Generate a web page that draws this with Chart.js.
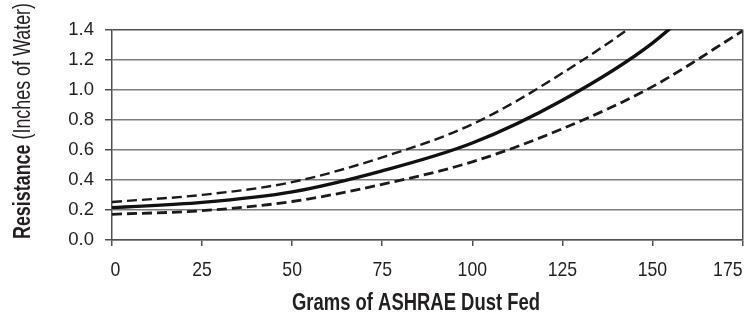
<!DOCTYPE html>
<html>
<head>
<meta charset="utf-8">
<script src="https://cdn.jsdelivr.net/npm/chart.js@4.4.1/dist/chart.umd.min.js"></script>
<style>
  html, body { margin: 0; padding: 0; background: #fff; }
  #wrap { width: 752px; height: 318px; position: relative; }
</style>
</head>
<body>
<div id="wrap"><canvas id="chart"></canvas></div>
<script>
// values
const grams = [0, 25, 50, 75, 100, 125, 150, 175];
const typical = [0.215, 0.25, 0.32, 0.46, 0.645, 0.93, 1.31, 1.85];
const upperBand = [0.253, 0.3, 0.385, 0.55, 0.77, 1.11, 1.53, 2.1];
const lowerBand = [0.171, 0.195, 0.256, 0.37, 0.52, 0.74, 1.02, 1.39];
const yTicks = [0, 0.2, 0.4, 0.6, 0.8, 1.0, 1.2, 1.4];

const xTitle = 'Grams of ASHRAE Dust Fed';
const yTitleBold = 'Resistance';
const yTitleRest = ' (Inches of Water)';

const SANS = '"Liberation Sans", Arial, sans-serif';
const SQUEEZE = 0.84; // no condensed face installed, so squeeze Liberation Sans
const INK = '#231f20';
const GRID = '#7d7d7d';
const AXIS = '#505050';

const pts = (ys) => grams.map((g, i) => ({ x: g, y: ys[i] }));

// draw horizontally squeezed text, fitted to a width if given
function narrowText(ctx, text, x, y, font, align, fitWidth) {
  ctx.font = font;
  const w = ctx.measureText(text).width;
  const k = fitWidth ? fitWidth / w : SQUEEZE;
  const ww = w * k;
  let left = x;
  if (align === 'center') left = x - ww / 2;
  else if (align === 'right') left = x - ww;
  ctx.save();
  ctx.translate(left, y);
  ctx.scale(k, 1);
  ctx.textAlign = 'left';
  ctx.fillText(text, 0, 0);
  ctx.restore();
}

const texts = {
  id: 'texts',
  afterDraw(chart) {
    const ctx = chart.ctx;
    const xs = chart.scales.x;
    ctx.save();
    ctx.fillStyle = INK;
    ctx.textBaseline = 'alphabetic';

    // x tick labels (first start-aligned, last end-aligned)
    const n = xs.ticks.length;
    xs.ticks.forEach((t, i) => {
      const px = xs.getPixelForValue(t.value);
      const align = i === 0 ? 'left' : i === n - 1 ? 'right' : 'center';
      narrowText(ctx, String(t.value), px - (i === 0 ? 1.5 : 0), 275.5, '21px ' + SANS, align);
    });

    // x title
    narrowText(ctx, xTitle, 416, 310, 'bold 24px ' + SANS, 'center', 248);

    // y title, bold part then regular part
    ctx.translate(29.5, 121);
    ctx.rotate(-Math.PI / 2);
    ctx.font = 'bold 23px ' + SANS;
    const w1 = ctx.measureText(yTitleBold).width;
    ctx.font = '23px ' + SANS;
    const w2 = ctx.measureText(yTitleRest).width;
    const k = 236 / (w1 + w2);
    ctx.scale(k, 1);
    const start = -(w1 + w2) / 2;
    ctx.textAlign = 'left';
    ctx.font = 'bold 23px ' + SANS;
    ctx.fillText(yTitleBold, start, 0);
    ctx.font = '23px ' + SANS;
    ctx.fillText(yTitleRest, start + w1, 0);
    ctx.restore();
  },
};

new Chart(document.getElementById('chart'), {
  type: 'line',
  data: {
    datasets: [
      {
        label: 'Upper',
        data: pts(upperBand),
        borderColor: '#1a1a1a',
        borderWidth: 2.4,
        borderDash: [10, 5],
        pointRadius: 0,
        cubicInterpolationMode: 'monotone',
      },
      {
        label: 'Typical',
        data: pts(typical),
        borderColor: '#111',
        borderWidth: 3.4,
        pointRadius: 0,
        cubicInterpolationMode: 'monotone',
      },
      {
        label: 'Lower',
        data: pts(lowerBand),
        borderColor: '#1a1a1a',
        borderWidth: 2.8,
        borderDash: [10, 5],
        pointRadius: 0,
        cubicInterpolationMode: 'monotone',
      },
    ],
  },
  options: {
    responsive: true,
    maintainAspectRatio: false,
    animation: false,
    events: [],
    layout: { padding: { top: 29.5, right: 9.5, bottom: 0, left: 0 } },
    plugins: { legend: { display: false }, tooltip: { enabled: false } },
    scales: {
      x: {
        type: 'linear',
        min: 0,
        max: 175,
        afterFit: (s) => { s.height = 78; s.paddingLeft = 0; s.paddingRight = 0; },
        border: { color: AXIS, width: 1.5 },
        grid: {
          color: (c) => (c.index === grams.length - 1 ? AXIS : 'transparent'),
          lineWidth: 1.5,
          tickColor: AXIS,
          tickLength: 6,
        },
        ticks: { stepSize: 25, display: false },
      },
      y: {
        min: 0,
        max: 1.4,
        afterFit: (s) => { s.width = 112; },
        afterBuildTicks: (s) => { s.ticks = yTicks.map((v) => ({ value: v })); },
        border: { color: AXIS, width: 1.5 },
        grid: {
          color: (c) => (c.index === yTicks.length - 1 ? AXIS : GRID),
          lineWidth: 1.5,
          tickColor: AXIS,
          tickLength: 7,
        },
        ticks: {
          padding: 11,
          color: INK,
          font: { family: SANS, size: 18.5 },
          callback: (v) => Number(v).toFixed(1),
        },
      },
    },
  },
  plugins: [texts],
});
</script>
</body>
</html>
